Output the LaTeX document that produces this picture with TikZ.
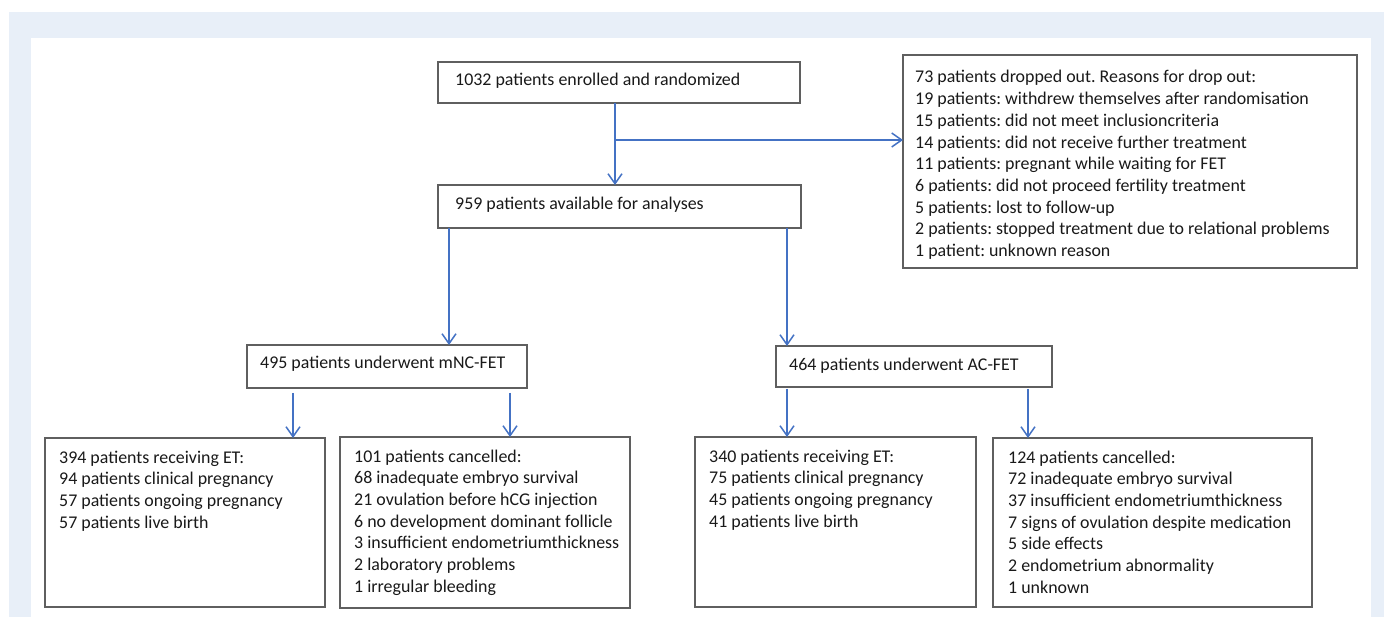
\documentclass[tikz,border=0pt]{standalone}
\usepackage{fontspec}
\setmainfont{Carlito}
\usetikzlibrary{arrows.meta,calc}
\definecolor{arrblue}{RGB}{68,114,196}
\definecolor{bgblue}{RGB}{232,239,248}
\definecolor{boxgray}{RGB}{95,95,95}
\definecolor{txtcol}{RGB}{25,25,25}
\newcommand{\lines}[1]{\begin{tabular}[t]{@{}l@{}}#1\end{tabular}}
\frenchspacing
\begin{document}
\begin{tikzpicture}[x=1pt,y=-1pt,
  box/.style={draw=boxgray, line width=1.2pt, fill=white, inner sep=0pt, outer sep=0pt, anchor=north west},
  txt/.style={anchor=base west, inner sep=0pt, font=\fontsize{17.9}{21.7}\selectfont, text=txtcol},
  arr/.style={draw=arrblue, line width=1.5pt, -{Straight Barb[length=10pt,width=14pt,line width=1.5pt]}}]
% background
\fill[white] (0,0) rectangle (1392,617);
\fill[bgblue] (9,12) rectangle (1384,617);
\fill[white] (31,38) rectangle (1371,617);
\useasboundingbox (0,0) rectangle (1392,617);
% boxes
\node[box, minimum width=362pt, minimum height=41pt] (A) at (438,62) {};
\node[txt] (tA) at (455,86) {1032 patients enrolled and randomized};
\node[box, minimum width=454pt, minimum height=213pt] (drop) at (903,55) {};
\node[txt] (tdrop) at (915,83) {\lines{73 patients dropped out. Reasons for drop out:\\
19 patients: withdrew themselves after randomisation\\
15 patients: did not meet inclusioncriteria\\
14 patients: did not receive further treatment\\
11 patients: pregnant while waiting for FET\\
6 patients: did not proceed fertility treatment\\
5 patients: lost to follow-up\\
2 patients: stopped treatment due to relational problems\\
1 patient: unknown reason}};
\node[box, minimum width=363pt, minimum height=43pt] (B) at (438,185) {};
\node[txt] (tB) at (455,210) {959 patients available for analyses};
\node[box, minimum width=280pt, minimum height=43pt] (mnc) at (247,345) {};
\node[txt] (tmnc) at (260,369) {495 patients underwent mNC-FET};
\node[box, minimum width=276pt, minimum height=41pt] (ac) at (776,346) {};
\node[txt] (tac) at (789,371) {464 patients underwent AC-FET};
\node[box, minimum width=280pt, minimum height=169pt] (b1) at (45,438) {};
\node[txt] (tb1) at (59,463) {\lines{394 patients receiving ET:\\
94 patients clinical pregnancy\\
57 patients ongoing pregnancy\\
57 patients live birth}};
\node[box, minimum width=290pt, minimum height=171pt] (b2) at (340,437) {};
\node[txt] (tb2) at (354,462) {\lines{101 patients cancelled:\\
68 inadequate embryo survival\\
21 ovulation before hCG injection\\
6 no development dominant follicle\\
3 insufficient endometriumthickness\\
2 laboratory problems\\
1 irregular bleeding}};
\node[box, minimum width=281pt, minimum height=170pt] (b3) at (695,437) {};
\node[txt] (tb3) at (709,462) {\lines{340 patients receiving ET:\\
75 patients clinical pregnancy\\
45 patients ongoing pregnancy\\
41 patients live birth}};
\node[box, minimum width=319pt, minimum height=169pt] (b4) at (993,438) {};
\node[txt] (tb4) at (1008,463) {\lines{124 patients cancelled:\\
72 inadequate embryo survival\\
37 insufficient endometriumthickness\\
7 signs of ovulation despite medication\\
5 side effects\\
2 endometrium abnormality\\
1 unknown}};
% connectors
\coordinate (j) at (615,140);
\draw[arr] (A.south -| j) -- (B.north -| j);
\draw[arr] (j) -- (drop.west |- j);
\draw[arr] ([xshift=11pt]B.south west) -- ([xshift=11pt]B.south west |- mnc.north);
\draw[arr] ([xshift=-14pt]B.south east) -- ([xshift=-14pt]B.south east |- ac.north);
\draw[arr] ([xshift=46pt,yshift=-5pt]mnc.south west) -- ([xshift=46pt]mnc.south west |- b1.north);
\draw[arr] ([xshift=263pt,yshift=-5pt]mnc.south west) -- ([xshift=263pt]mnc.south west |- b2.north);
\draw[arr] ([xshift=11pt,yshift=-2pt]ac.south west) -- ([xshift=11pt]ac.south west |- b3.north);
\draw[arr] ([xshift=252pt,yshift=-2pt]ac.south west) -- ([xshift=252pt]ac.south west |- b4.north);
\end{tikzpicture}
\end{document}
